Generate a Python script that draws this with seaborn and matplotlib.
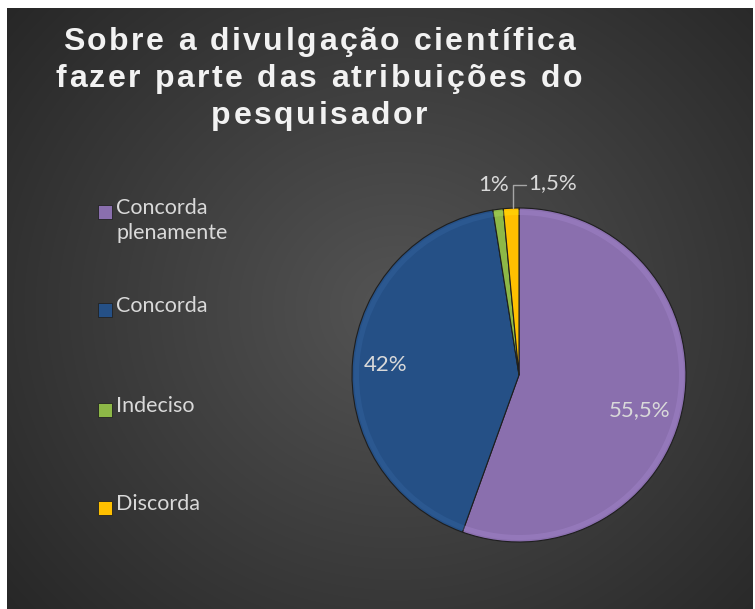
import numpy as np
import matplotlib
matplotlib.use("Agg")
import matplotlib.pyplot as plt
from matplotlib.patches import Rectangle
from matplotlib.font_manager import FontProperties
import seaborn as sns

# Survey responses
categories = ["Concorda plenamente", "Concorda", "Indeciso", "Discorda"]
legend_labels = ["Concorda\nplenamente", "Concorda", "Indeciso", "Discorda"]
shares = [55.5, 42.0, 1.0, 1.5]
value_labels = ["55,5%", "42%", "1%", "1,5%"]
title_lines = ["Sobre a divulgação científica",
               "fazer parte das atribuições do",
               "pesquisador"]

sns.set_theme(style="white")
plt.rcParams["font.family"] = ["Lato", "DejaVu Sans"]

palette = sns.color_palette(["#8A6FAE", "#255086", "#8DB847", "#FFC000"])

W, H = 755, 609
fig = plt.figure(figsize=(W / 100, H / 100), dpi=100)
fig.patch.set_facecolor("white")

# Dark radial-gradient backdrop
bg = fig.add_axes([7 / W, 0, 746 / W, 601 / H])
yy, xx = np.mgrid[0:601, 0:746]
cx, cy = 390, 300
d = np.sqrt(((xx - cx) / 520) ** 2 + ((yy - cy) / 480) ** 2)
d = np.clip(d, 0, 1)
light = np.array([0x54, 0x54, 0x54]) / 255
dark = np.array([0x26, 0x26, 0x26]) / 255
img = light[None, None, :] * (1 - d[..., None]) + dark[None, None, :] * d[..., None]
bg.imshow(img, aspect="auto", interpolation="bilinear")
bg.set_axis_off()

# Title, drawn glyph by glyph with extra letter spacing
title_fp = FontProperties(family="Liberation Sans", weight="bold", size=23)
tracking = 2.55  # px added between glyphs
renderer = fig.canvas.get_renderer()


def advance(s):
    w, _, _ = renderer.get_text_width_height_descent(s, title_fp, ismath=False)
    return w


for i, line in enumerate(title_lines):
    adv = []
    prev = 0.0
    for k in range(1, len(line) + 1):
        cur = advance(line[:k] + "|") - advance("|")
        adv.append(cur - prev)
        prev = cur
    total = sum(adv) + tracking * (len(line) - 1)
    x = 319 - total / 2
    baseline = 50 + i * 37
    for ch, a in zip(line, adv):
        if ch != " ":
            fig.text(x / W, 1 - baseline / H, ch, ha="left", va="baseline",
                     fontproperties=title_fp, color="#F2F2F2")
        x += a + tracking

# Pie
pcx, pcy, r = 519, 375, 167
ax = fig.add_axes([(pcx - r) / W, (H - pcy - r) / H, 2 * r / W, 2 * r / H])
ax.set_facecolor("none")
wedges, _ = ax.pie(shares, colors=palette, startangle=90, counterclock=False,
                   radius=1.0, wedgeprops=dict(edgecolor="#1E1E1E", linewidth=0.8))
# Soft bevel rim on each slice
rim = [tuple(min(1, v * 1.15 + 0.06) for v in c) for c in palette]
ax.pie(shares, colors=rim, startangle=90, counterclock=False, radius=0.988,
       wedgeprops=dict(width=0.03, alpha=0.3, linewidth=0))
ax.set_xlim(-1, 1)
ax.set_ylim(-1, 1)
ax.set_aspect("equal")
ax.axis("off")

lbl_color = "#D9D9D9"
ax.text(0.72, -0.21, value_labels[0], ha="center", va="center", fontsize=16, color=lbl_color)
ax.text(-0.80, 0.06, value_labels[1], ha="center", va="center", fontsize=16, color=lbl_color)
ax.text(-0.15, 1.135, value_labels[2], ha="center", va="center", fontsize=16,
        color=lbl_color, clip_on=False)
ax.text(0.20, 1.15, value_labels[3], ha="center", va="center", fontsize=16,
        color=lbl_color, clip_on=False)
ax.plot([-0.035, -0.035, 0.04], [1.0, 1.135, 1.135], color="#A6A6A6", lw=1.0, clip_on=False)

# Legend
ys = [212, 310, 410, 508]
for y, lab, c in zip(ys, legend_labels, palette):
    fig.patches.append(Rectangle((98 / W, 1 - (y + 7) / H), 14 / W, 14 / H,
                                 transform=fig.transFigure, facecolor=c,
                                 edgecolor="#222222", linewidth=0.6))
    fig.text(116 / W, 1 - (y - 14) / H, lab, ha="left", va="top", fontsize=15.5,
             color=lbl_color, linespacing=1.3)

fig.savefig("out.png", dpi=100, facecolor=fig.get_facecolor())
